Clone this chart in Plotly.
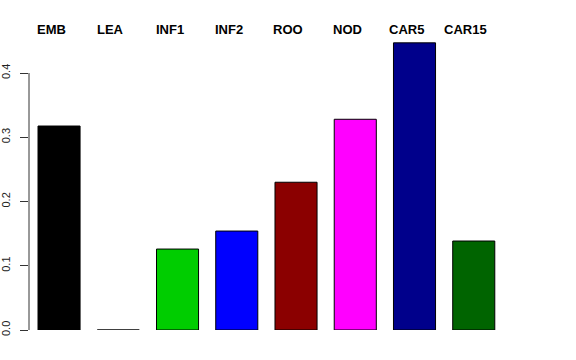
import plotly.graph_objects as go

categories = ["EMB", "LEA", "INF1", "INF2", "ROO", "NOD", "CAR5", "CAR15"]
values = [0.3175, 0.0, 0.126, 0.154, 0.230, 0.328, 0.447, 0.1385]
colors = ["#000000", "#FF0000", "#00CD00", "#0000FF", "#8B0000", "#FF00FF", "#00008B", "#006400"]
y_ticks = [0.0, 0.1, 0.2, 0.3, 0.4]

fig = go.Figure()
fig.add_trace(go.Bar(
    x=categories, y=values,
    marker=dict(color=colors, line=dict(color="black", width=1)),
    width=0.71,
    hoverinfo="skip",
))

annotations = [
    dict(x=c, y=1.0345, xref="x", yref="paper", text=f"<b>{c}</b>", showarrow=False,
         xanchor="center", yanchor="middle", xshift=-8,
         font=dict(size=13, family="Liberation Sans, Arial, sans-serif", color="black"))
    for c in categories
]

fig.update_layout(
    width=576, height=360,
    margin=dict(l=29, r=43, t=40, b=30, autoexpand=False),
    paper_bgcolor="white", plot_bgcolor="white",
    showlegend=False,
    font=dict(family="Liberation Sans, Arial, sans-serif", color="black"),
    xaxis=dict(
        type="category", range=[-0.507, 8.0], automargin=False,
        showline=False, showgrid=False, zeroline=False, ticks="", showticklabels=False,
    ),
    yaxis=dict(
        range=[0, 0.4514], showgrid=False, zeroline=False, showline=False, automargin=False,
        tickmode="array", tickvals=y_ticks, ticktext=[f"{v:.1f}" for v in y_ticks],
        ticks="outside", ticklen=8, tickcolor="#333333", tickwidth=1,
        tickangle=-90, tickfont=dict(size=11, color="#222222"), ticklabelstandoff=6,
    ),
    annotations=annotations,
    shapes=[dict(type="line", xref="paper", yref="y", x0=0, x1=0, y0=y_ticks[0], y1=y_ticks[-1],
                 line=dict(color="#333333", width=1))],
)

fig.write_html("out.html", config={"displayModeBar": False},
               post_script="document.body.style.margin='0';")
